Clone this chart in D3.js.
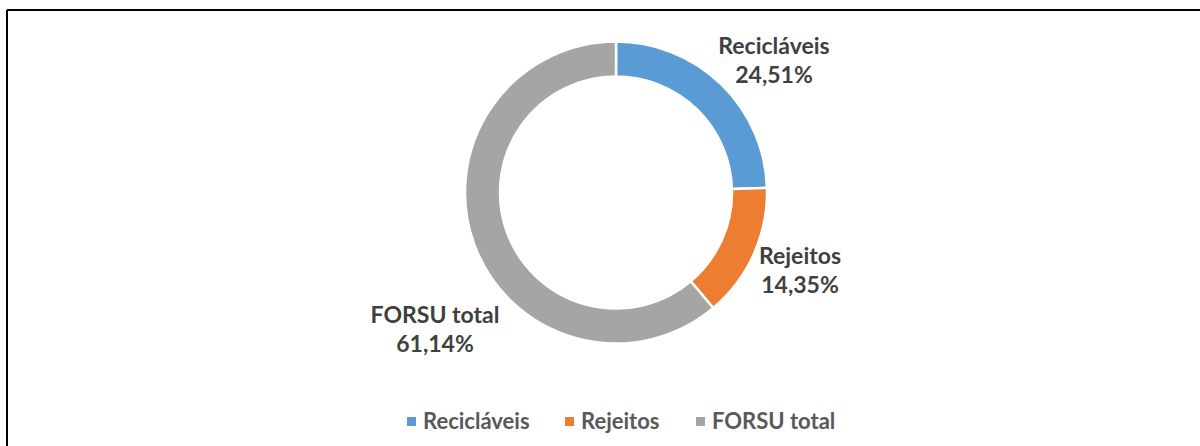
<!DOCTYPE html>
<html>
<head>
<meta charset="utf-8">
<script src="https://cdn.jsdelivr.net/npm/d3@7"></script>
<style>
    body { margin: 0; background: #fff; }
    svg { display: block; }
    .lbl { font-family: Lato, "Open Sans", sans-serif; font-weight: bold; fill: #404040; }
    .leg { font-family: Lato, "Open Sans", sans-serif; font-weight: bold; fill: #595959; }
</style>
</head>
<body>
<div id="chart"></div>
<script>
const categories = ["Recicláveis", "Rejeitos", "FORSU total"];
const shares = [24.51, 14.35, 61.14];
const shareLabels = ["24,51%", "14,35%", "61,14%"];
const colors = ["#5b9bd5", "#ed7d31", "#a5a5a5"];

const svgWidth = 1200, svgHeight = 446;
const center = {x: 616, y: 192.5};
const outerR = 151, innerR = 116;

const svg = d3.select("#chart").append("svg")
    .attr("width", svgWidth)
    .attr("height", svgHeight);

// chart frame (only top and left edges are visible in the shot)
svg.append("line")
    .attr("x1", 7).attr("x2", svgWidth)
    .attr("y1", 10).attr("y2", 10)
    .attr("stroke", "#000").attr("stroke-width", 2);
svg.append("line")
    .attr("x1", 7).attr("x2", 7)
    .attr("y1", 10).attr("y2", svgHeight)
    .attr("stroke", "#000").attr("stroke-width", 2);

const data = categories.map((c, i) => ({name: c, value: shares[i], label: shareLabels[i], color: colors[i]}));

const pie = d3.pie().sort(null).value(d => d.value);
const arc = d3.arc().innerRadius(innerR).outerRadius(outerR);

const g = svg.append("g").attr("transform", `translate(${center.x},${center.y})`);

g.selectAll(".slice")
    .data(pie(data))
    .enter().append("path")
    .attr("class", "slice")
    .attr("d", arc)
    .attr("fill", d => d.data.color)
    .attr("stroke", "#fff")
    .attr("stroke-width", 2.5);

// data labels, placed outside the ring
const labelPos = [
    {x: 774, y: 46},
    {x: 800, y: 256},
    {x: 435, y: 315}
];
const lineGap = 29;

data.forEach((d, i) => {
    const t = svg.append("text")
        .attr("class", "lbl")
        .attr("text-anchor", "middle")
        .attr("font-size", 23);
    t.append("tspan").attr("x", labelPos[i].x).attr("y", labelPos[i].y).attr("dy", "0.35em").text(d.name);
    t.append("tspan").attr("x", labelPos[i].x).attr("y", labelPos[i].y + lineGap).attr("dy", "0.35em").text(d.label);
});

// legend
const legendX = [407, 565, 696];
const legendY = 421.5;
const leg = svg.selectAll(".legend-item")
    .data(data)
    .enter().append("g")
    .attr("class", "legend-item")
    .attr("transform", (d, i) => `translate(${legendX[i]},${legendY})`);

leg.append("rect")
    .attr("x", 0).attr("y", -4.5)
    .attr("width", 9).attr("height", 9)
    .attr("fill", d => d.color);

leg.append("text")
    .attr("class", "leg")
    .attr("x", 16)
    .attr("dy", "0.35em")
    .attr("font-size", 22)
    .text(d => d.name);
</script>
</body>
</html>
